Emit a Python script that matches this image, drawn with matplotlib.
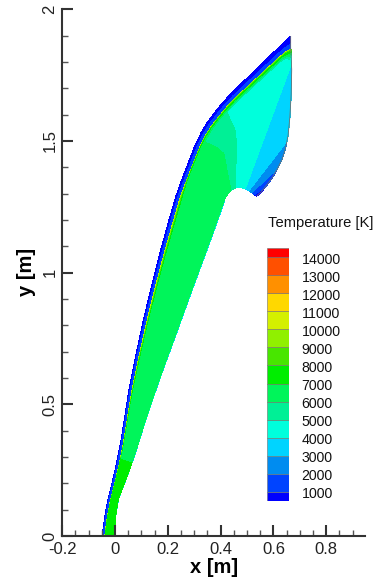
import numpy as np
import matplotlib
matplotlib.use("Agg")
import matplotlib.pyplot as plt
from matplotlib.patches import Rectangle
from matplotlib.ticker import MultipleLocator, FixedLocator, FixedFormatter

plt.rcParams["font.family"] = ["Liberation Sans", "DejaVu Sans"]
plt.rcParams["axes.unicode_minus"] = False

# contour levels and band colours (low -> high), as in the legend
LEVELS = [0, 1000, 2000, 3000, 4000, 5000, 6000, 7000, 8000, 9000,
          10000, 11000, 12000, 13000, 14000, 30000]
COLORS = ["#0000ff", "#0044ff", "#008cf0", "#00d4ff", "#00ffdc",
          "#00f096", "#00f55a", "#00ee00", "#48e600", "#90f000",
          "#d4f000", "#ffd800", "#ff9000", "#ff5000", "#ff0000"]
LEGEND_LABELS = [1000, 2000, 3000, 4000, 5000, 6000, 7000, 8000, 9000,
                 10000, 11000, 12000, 13000, 14000]

# body surface (cone part), bottom to shoulder
BODY_X = [0.000, 0.001, 0.012, 0.031, 0.054, 0.081, 0.109, 0.142,
          0.186, 0.232, 0.277, 0.323, 0.369, 0.414]
BODY_Y = [0.000, 0.070, 0.140, 0.190, 0.250, 0.330, 0.420, 0.520,
          0.645, 0.770, 0.895, 1.020, 1.145, 1.272]

# outer edge of the domain (upstream side) and cold-band width behind it
OUTER_X = [-0.048, -0.039, -0.026, -0.011, 0.004, 0.021, 0.037, 0.054,
           0.080, 0.108, 0.139, 0.172, 0.202, 0.231, 0.256, 0.283,
           0.302, 0.326, 0.350, 0.380, 0.408, 0.440, 0.476, 0.507,
           0.543, 0.572, 0.600, 0.624, 0.665]
OUTER_Y = [0.000, 0.070, 0.140, 0.200, 0.265, 0.350, 0.450, 0.560,
           0.690, 0.820, 0.950, 1.080, 1.190, 1.290, 1.360, 1.430,
           1.480, 1.530, 1.570, 1.610, 1.645, 1.680, 1.715, 1.745,
           1.780, 1.808, 1.835, 1.858, 1.897]
BAND_WIDTH = [0.004, 0.004, 0.004, 0.004, 0.0045, 0.005, 0.005, 0.006,
              0.007, 0.008, 0.009, 0.010, 0.011, 0.011, 0.012, 0.012,
              0.013, 0.013, 0.014, 0.015, 0.016, 0.017, 0.018, 0.019,
              0.020, 0.021, 0.022, 0.023, 0.0]
FRONT_TIP = (0.665, 1.855)   # where the shock front meets the outflow edge

# temperature in the cone part of the layer
CONE_BULK_T = [7400, 7400, 7400, 7300, 7100, 6800, 6500, 6500,
               6500, 6500, 6500, 6500, 6500, 6500]
WALL_T = 3000
CONE_STRIP_T = [7600, 9200, 10600]

# expansion fan: rays from the shoulder arc to the shock front ...
FAN_X0 = [0.414, 0.415, 0.417, 0.421, 0.426, 0.432, 0.440, 0.447,
          0.454, 0.461, 0.467, 0.473, 0.478, 0.482, 0.485, 0.488]
FAN_Y0 = [1.272, 1.278, 1.285, 1.292, 1.299, 1.306, 1.313, 1.318,
          1.322, 1.324, 1.325, 1.325, 1.324, 1.323, 1.322, 1.321]
FAN_T_IN = [6500, 6500, 6500, 6500, 6500, 6300, 5900, 5500,
            5100, 4700, 4550, 4450, 4400, 4350, 4300, 4200]
FAN_T_OUT = [6500, 6500, 6500, 6300, 5900, 5500, 5300, 5000,
             4800, 4600, 4500, 4450, 4400, 4350, 4300, 4200]
FAN_STRIP_T = [6700, 7800, 10300]

# ... and rays from the shoulder arc to the outflow edge
EDGE_X0 = [0.491, 0.494, 0.497, 0.501, 0.505, 0.509, 0.513, 0.518,
           0.523, 0.528, 0.532, 0.536]
EDGE_Y0 = [1.320, 1.318, 1.317, 1.315, 1.313, 1.311, 1.308, 1.305,
           1.301, 1.297, 1.294, 1.291]
EDGE_X = [0.667, 0.669, 0.667, 0.662, 0.655, 0.645, 0.632, 0.615,
          0.595, 0.570, 0.552, 0.537]
EDGE_Y = [1.820, 1.770, 1.680, 1.590, 1.520, 1.470, 1.430, 1.395,
          1.360, 1.327, 1.305, 1.292]
EDGE_T = [4050, 3950, 3750, 3450, 3100, 2850, 2500, 2000,
          1500, 1000, 800, 700]

# cold band outside the shock front
BAND_N = [0.0, 0.3, 1.0]
BAND_T = [1800, 1000, 300]

LAYER_N = [0.0, 0.02, 0.1, 0.5, 0.92, 0.955, 0.98, 1.0]


def ruled_grid(xi, yi, xo, yo, n):
    xi, yi, xo, yo, n = map(np.asarray, (xi, yi, xo, yo, n))
    X = xi[:, None] + (xo - xi)[:, None] * n[None, :]
    Y = yi[:, None] + (yo - yi)[:, None] * n[None, :]
    return X, Y


def fill(ax, X, Y, T):
    cs = ax.contourf(X, Y, T, levels=LEVELS, colors=COLORS)
    cs.set_edgecolor("face")
    cs.set_linewidth(0.3)
    return cs


# shock front = outer edge moved inward by the band width
ox_, oy_ = np.asarray(OUTER_X), np.asarray(OUTER_Y)
tx, ty = np.gradient(ox_), np.gradient(oy_)
tl = np.hypot(tx, ty)
w = np.asarray(BAND_WIDTH)
front_x = ox_ + w * ty / tl
front_y = oy_ - w * tx / tl
front_x[-1], front_y[-1] = FRONT_TIP

fig = plt.figure(figsize=(3.78, 5.77), dpi=100)
ax = fig.add_axes([62.3 / 378, 41 / 577, 302.7 / 378, 526.7 / 577])

# cone part
nA = len(BODY_X)
XA, YA = ruled_grid(BODY_X, BODY_Y, front_x[:nA], front_y[:nA], LAYER_N)
TA = np.zeros(XA.shape)
for i, tb in enumerate(CONE_BULK_T):
    TA[i] = [WALL_T, tb, tb, tb, tb] + CONE_STRIP_T
fill(ax, XA, YA, TA)

# fan part
xi = FAN_X0 + EDGE_X0
yi = FAN_Y0 + EDGE_Y0
xo = list(front_x[nA - 1:]) + EDGE_X
yo = list(front_y[nA - 1:]) + EDGE_Y
XB, YB = ruled_grid(xi, yi, xo, yo, LAYER_N)
TB = np.zeros(XB.shape)
for k, (tin, tout) in enumerate(zip(FAN_T_IN, FAN_T_OUT)):
    if k == 0:
        TB[k] = [WALL_T, tin, tin, tin, tout] + CONE_STRIP_T
    else:
        TB[k] = [tin] * 4 + [tout] + FAN_STRIP_T
for k, te in enumerate(EDGE_T):
    TB[len(FAN_T_IN) + k] = te
fill(ax, XB, YB, TB)

# cold band
XC, YC = ruled_grid(front_x, front_y, OUTER_X, OUTER_Y, BAND_N)
TC = np.tile(BAND_T, (len(OUTER_X), 1)).astype(float)
fill(ax, XC, YC, TC)

# outflow boundary line
lx = EDGE_X[::-1] + [FRONT_TIP[0], OUTER_X[-1]]
ly = EDGE_Y[::-1] + [FRONT_TIP[1], OUTER_Y[-1]]
ax.plot(lx, ly, color="#707070", lw=0.6, zorder=3)

ax.set_xlim(-0.2, 0.9466)
ax.set_ylim(0, 2)
for s in ("top", "right"):
    ax.spines[s].set_visible(False)
for s in ("left", "bottom"):
    ax.spines[s].set_linewidth(1.5)
    ax.spines[s].set_color("#333333")

xt = [-0.2, 0, 0.2, 0.4, 0.6, 0.8]
yt = [0, 0.5, 1, 1.5, 2]
ax.xaxis.set_major_locator(FixedLocator(xt))
ax.xaxis.set_major_formatter(FixedFormatter(["-0.2", "0", "0.2", "0.4", "0.6", "0.8"]))
ax.yaxis.set_major_locator(FixedLocator(yt))
ax.yaxis.set_major_formatter(FixedFormatter(["0", "0.5", "1", "1.5", "2"]))
ax.xaxis.set_minor_locator(MultipleLocator(0.05))
ax.yaxis.set_minor_locator(MultipleLocator(0.1))
ax.tick_params(which="major", direction="in", length=8, width=1.5,
               color="#333333", labelsize=12, labelcolor="#222222")
ax.tick_params(axis="x", which="major", pad=4)
ax.tick_params(axis="y", which="major", pad=3.5)
ax.tick_params(which="minor", direction="in", length=4.3, width=1.0, color="#555555")
for lab in ax.get_yticklabels():
    lab.set_rotation(90)
    lab.set_va("center")

fig.text(214 / 378, 0.016, "x [m]", ha="center", va="center",
         fontsize=14.5, fontweight="bold")
fig.text(26.5 / 378, 1 - 272 / 577, "y [m]", ha="center", va="center",
         rotation=90, fontsize=14.5, fontweight="bold")

# legend
cax = fig.add_axes([266.7 / 378, 1 - 500.7 / 577, 22.6 / 378, 252.4 / 577])
cax.set_xlim(0, 1)
cax.set_ylim(500, 14500)
cax.axis("off")
bounds = [500] + LEGEND_LABELS + [14500]
for lo, hi, c in zip(bounds[:-1], bounds[1:], COLORS):
    cax.add_patch(Rectangle((0, lo), 1, hi - lo, facecolor=c,
                            edgecolor="#707070", lw=0.4))
for v in LEGEND_LABELS:
    cax.text(1.55, v - 150, str(v), ha="left", va="center", fontsize=10.2,
             color="#111111", clip_on=False)
fig.text(268.3 / 378, 1 - 223 / 577, "Temperature [K]", ha="left",
         va="center", fontsize=10.6, color="#111111")

fig.savefig("out.png", dpi=100)
